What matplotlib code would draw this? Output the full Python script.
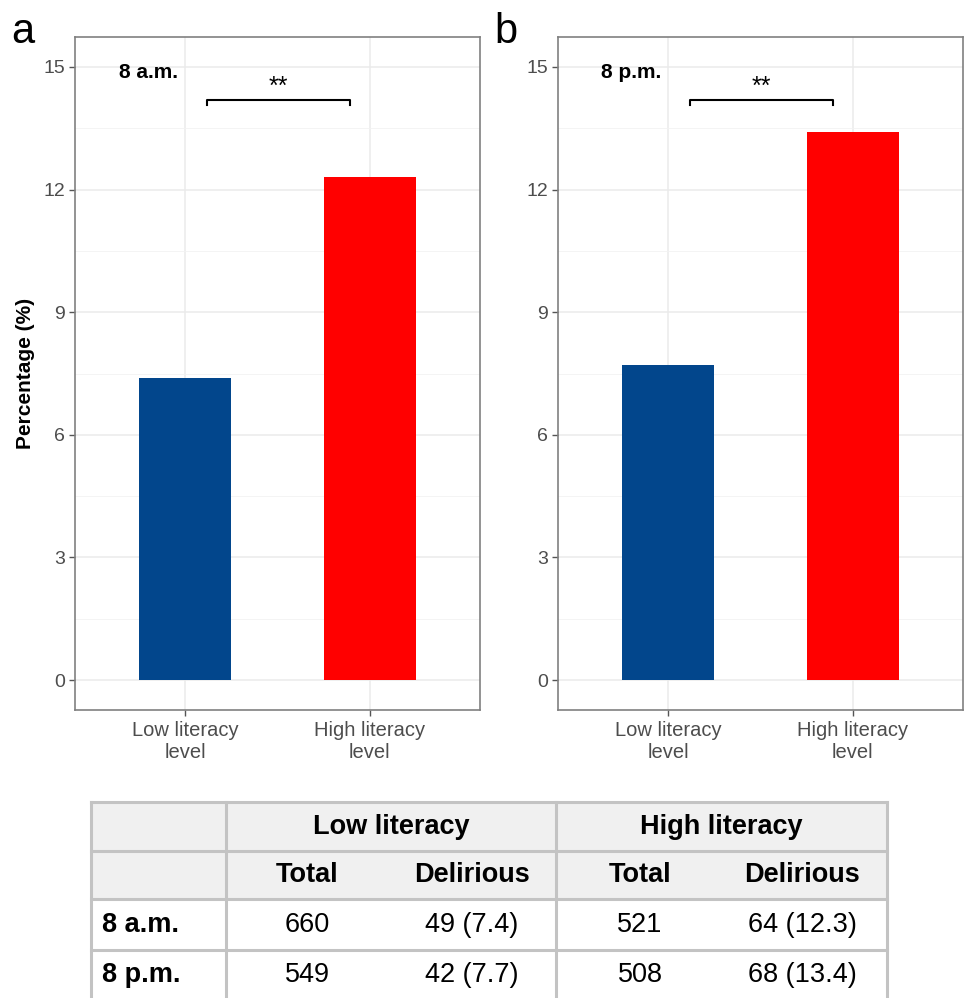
import matplotlib
matplotlib.use("Agg")
import matplotlib.pyplot as plt
from matplotlib.patches import Rectangle

plt.rcParams['font.family'] = ['Liberation Sans', 'DejaVu Sans']

categories = ["Low literacy\nlevel", "High literacy\nlevel"]
panel_labels = ["a", "b"]
times = ["8 a.m.", "8 p.m."]
pct_am = [7.4, 12.3]
pct_pm = [7.7, 13.4]
bar_colors = ["#02468C", "#FF0000"]
yticks = [0, 3, 6, 9, 12, 15]
sig_label = "**"

# table data
group_headers = ["Low literacy", "High literacy"]
sub_headers = ["Total", "Delirious", "Total", "Delirious"]
row_labels = ["8 a.m.", "8 p.m."]
total_low = [660, 549]
delir_low = ["49 (7.4)", "42 (7.7)"]
total_high = [521, 508]
delir_high = ["64 (12.3)", "68 (13.4)"]

W, H = 966, 998
fig = plt.figure(figsize=(W / 100, H / 100), dpi=100)

def fx(px):
    return px / W

def fy(py):
    return 1 - py / H

panels = [(75, pct_am), (558, pct_pm)]
for i, (left, vals) in enumerate(panels):
    ax = fig.add_axes([fx(left), fy(710), 405 / W, 673 / H])
    x = [1, 2]
    ax.bar(x, vals, width=0.5, color=bar_colors, zorder=3)
    ax.set_xlim(0.4, 2.6)
    ax.set_ylim(-0.73, 15.73)
    ax.set_yticks(yticks)
    ax.set_yticks([1.5, 4.5, 7.5, 10.5, 13.5], minor=True)
    ax.set_xticks(x)
    ax.set_xticklabels(categories, fontsize=14.5, color="#4d4d4d", linespacing=1.2)
    ax.tick_params(axis="y", labelsize=14, labelcolor="#4d4d4d", color="#555555", length=4, width=1, pad=3)
    ax.tick_params(axis="x", color="#555555", length=4, width=1, pad=4)
    ax.tick_params(axis="y", which="minor", length=0)
    ax.grid(True, which="major", color="#ebebeb", linewidth=1.1, zorder=0)
    ax.grid(True, which="minor", axis="y", color="#f2f2f2", linewidth=0.6, zorder=0)
    for s in ax.spines.values():
        s.set_color("#808080")
        s.set_linewidth(1.2)
    ax.set_axisbelow(True)
    # time label
    ax.text(0.797, 14.86, times[i], fontsize=15, fontweight="bold", ha="center", va="center")
    # significance bracket
    x1, x2, yb = 1.117, 1.894, 14.19
    ax.plot([x1, x1, x2, x2], [yb - 0.12, yb, yb, yb - 0.12], color="black", lw=1.5, zorder=4)
    ax.text((x1 + x2) / 2, yb + 0.02, sig_label, fontsize=18, ha="center", va="bottom")
    if i == 0:
        ax.set_ylabel("Percentage (%)", fontsize=15, fontweight="bold", labelpad=6)
    fig.text(fx(left - 64), fy(43), panel_labels[i], fontsize=30, ha="left", va="baseline")

# table overlay
tax = fig.add_axes([0, 0, 1, 1])
tax.set_xlim(0, W)
tax.set_ylim(H, 0)
tax.axis("off")

border = "#c3c3c3"
lw = 2.2
xL, xC1, xC2, xR = 91, 226, 556, 887
rows = [802, 851, 899, 950, 1000]
tax.add_patch(Rectangle((xL, rows[0]), xR - xL, rows[2] - rows[0], facecolor="#f0f0f0", edgecolor="none"))
tax.add_patch(Rectangle((xL, rows[2]), xR - xL, rows[4] - rows[2], facecolor="white", edgecolor="none"))
for r in rows[:4]:
    tax.plot([xL, xR], [r, r], color=border, lw=lw, solid_capstyle="projecting")
for xv in [xL, xC1, xC2, xR]:
    tax.plot([xv, xv], [rows[0], rows[4]], color=border, lw=lw, solid_capstyle="projecting")

tfam = ['Liberation Sans', 'DejaVu Sans']
fs = 19.5
tax.text((xC1 + xC2) / 2, (rows[0] + rows[1]) / 2, group_headers[0], fontsize=fs, fontweight="bold",
         ha="center", va="center", family=tfam)
tax.text((xC2 + xR) / 2, (rows[0] + rows[1]) / 2, group_headers[1], fontsize=fs, fontweight="bold",
         ha="center", va="center", family=tfam)
sub_x = [307, 472, 640, 802]
for sx, h in zip(sub_x, sub_headers):
    tax.text(sx, (rows[1] + rows[2]) / 2, h, fontsize=fs, fontweight="bold", ha="center", va="center", family=tfam)
for j in range(2):
    yc = (rows[2 + j] + rows[3 + j]) / 2
    tax.text(102, yc, row_labels[j], fontsize=fs, fontweight="bold", ha="left", va="center", family=tfam)
    cells = [str(total_low[j]), delir_low[j], str(total_high[j]), delir_high[j]]
    for sx, c in zip(sub_x, cells):
        tax.text(sx, yc, c, fontsize=fs, ha="center", va="center", family=tfam)

fig.savefig("out.png", dpi=100, facecolor="white")
